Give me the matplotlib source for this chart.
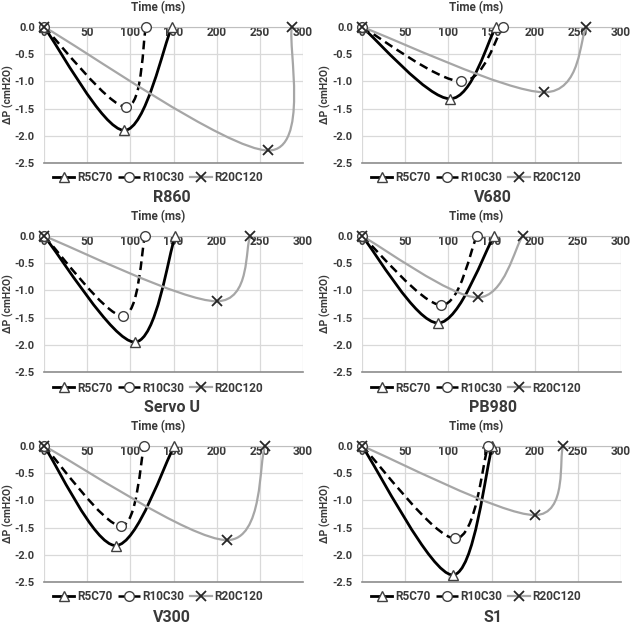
import matplotlib
matplotlib.use("Agg")
import matplotlib.pyplot as plt
from matplotlib.path import Path
from matplotlib.patches import PathPatch
from matplotlib.lines import Line2D

W, H = 638, 625
plt.rcParams['font.family'] = ['Roboto', 'DejaVu Sans']

panels = ["R860", "V680", "Servo U", "PB980", "V300", "S1"]
series_names = ["R5C70", "R10C30", "R20C120"]

# each series: times (ms) and pressure drops (cmH2O)
r5c70_t = [[0, 93, 148], [0, 102, 155], [0, 105, 152], [0, 88, 153], [0, 83, 151], [0, 105, 151]]
r5c70_p = [[0, -1.90, 0], [0, -1.32, 0], [0, -1.95, 0], [0, -1.60, 0], [0, -1.83, 0], [0, -2.37, 0]]
r10c30_t = [[0, 95, 118], [0, 115, 163], [0, 91, 117], [0, 92, 133], [0, 89, 116], [0, 108, 146]]
r10c30_p = [[0, -1.47, 0], [0, -1.00, 0], [0, -1.47, 0], [0, -1.27, 0], [0, -1.47, 0], [0, -1.70, 0]]
r20c120_t = [[0, 260, 287], [0, 211, 260], [0, 200, 239], [0, 134, 186], [0, 212, 256], [0, 200, 233]]
r20c120_p = [[0, -2.27, 0], [0, -1.20, 0], [0, -1.20, 0], [0, -1.13, 0], [0, -1.73, 0], [0, -1.27, 0]]

x_ticks = [0, 50, 100, 150, 200, 250, 300]
y_ticks = [0.0, -0.5, -1.0, -1.5, -2.0, -2.5]

styles = [
    dict(color="black", ls="-", lw=2.0, marker="^"),
    dict(color="black", ls=(0, (3.5, 2)), lw=1.8, marker="o"),
    dict(color="#a6a6a6", ls="-", lw=1.6, marker="x"),
]

TXT = "#3a3a3a"
FS = 8.5


def smooth_path(xs, ys):
    pts = list(zip(xs, ys))
    n = len(pts)
    verts = [pts[0]]
    codes = [Path.MOVETO]
    for i in range(n - 1):
        p0 = pts[i - 1] if i > 0 else pts[i]
        p1 = pts[i]
        p2 = pts[i + 1]
        p3 = pts[i + 2] if i + 2 < n else pts[i + 1]
        c1 = (p1[0] + (p2[0] - p0[0]) / 6, p1[1] + (p2[1] - p0[1]) / 6)
        c2 = (p2[0] - (p3[0] - p1[0]) / 6, p2[1] - (p3[1] - p1[1]) / 6)
        verts += [c1, c2, p2]
        codes += [Path.CURVE4] * 3
    return Path(verts, codes)


fig = plt.figure(figsize=(W / 100, H / 100), dpi=100)

col_x = [(44, 303), (362, 621)]
row_y = [(27, 163), (236, 372), (446, 582)]
time_y = [8, 217, 427]
leg_y = [178, 388, 597]
title_y = [198, 407, 617]
time_x = [158, 476]
title_x = [172, 493]
ylab_x = [8, 325]

all_t = [r5c70_t, r10c30_t, r20c120_t]
all_p = [r5c70_p, r10c30_p, r20c120_p]

for k, name in enumerate(panels):
    r, c = divmod(k, 2)
    x0, x1 = col_x[c]
    yt, yb = row_y[r]
    ax = fig.add_axes([x0 / W, 1 - yb / H, (x1 - x0) / W, (yb - yt) / H])
    ax.set_xlim(0, 300)
    ax.set_ylim(-2.5, 0)
    ax.set_xticks(x_ticks)
    ax.set_yticks(y_ticks)
    ax.set_yticklabels([f"{v:.1f}" for v in y_ticks])
    ax.grid(True, color="#d9d9d9", lw=0.9)
    ax.set_axisbelow(True)
    for s in ["left", "right"]:
        ax.spines[s].set_visible(False)
    ax.spines["top"].set_color("#bfbfbf")
    ax.spines["bottom"].set_color("#8c8c8c")
    ax.spines["bottom"].set_linewidth(1.2)
    ax.tick_params(axis="x", top=False, bottom=False, labeltop=True, labelbottom=False,
                   pad=-12, labelsize=FS, labelcolor=TXT)
    ax.tick_params(axis="y", left=False, labelsize=8, labelcolor=TXT, pad=3)
    for lab in ax.get_xticklabels() + ax.get_yticklabels():
        lab.set_fontweight("bold")

    for j in range(3):
        st = styles[j]
        t = all_t[j][k]
        p = all_p[j][k]
        patch = PathPatch(smooth_path(t, p), transform=ax.transData, facecolor="none",
                          edgecolor=st["color"], lw=st["lw"], linestyle=st["ls"], clip_on=False,
                          zorder=3)
        ax.add_patch(patch)
        if st["marker"] == "x":
            ax.plot(t, p, ls="none", marker="x", ms=6.5, mew=1.3, color="#262626",
                    clip_on=False, zorder=4)
        else:
            ax.plot(t, p, ls="none", marker=st["marker"], ms=7, mew=1.0, mfc="white",
                    mec="#404040", clip_on=False, zorder=4)

    handles = []
    for j in range(3):
        st = styles[j]
        if st["marker"] == "x":
            h = Line2D([], [], color=st["color"], lw=st["lw"], ls=st["ls"], marker="x",
                       ms=6.5, mew=1.3, mec="#262626")
        else:
            h = Line2D([], [], color=st["color"], lw=st["lw"], ls=st["ls"], marker=st["marker"],
                       ms=7, mfc="white", mec="#404040")
        handles.append(h)
    fig.legend(handles, series_names, loc="center", ncol=3,
               bbox_to_anchor=(time_x[c] / W, 1 - leg_y[r] / H), frameon=False,
               handlelength=1.8, handletextpad=0.25, columnspacing=0.5,
               prop=dict(weight="bold", size=FS), labelcolor=TXT)

    fig.text(ylab_x[c] / W, 1 - ((yt + yb) / 2) / H, "ΔP (cmH2O)", rotation=90,
             ha="center", va="center", fontsize=7.5, fontweight="bold", color=TXT)
    fig.text(time_x[c] / W, 1 - time_y[r] / H, "Time (ms)", ha="center", va="center",
             fontsize=FS, fontweight="bold", color=TXT)
    fig.text(title_x[c] / W, 1 - title_y[r] / H, name, ha="center", va="center",
             fontsize=11.5, fontweight="bold", color=TXT)

fig.savefig("out.png", dpi=100)
